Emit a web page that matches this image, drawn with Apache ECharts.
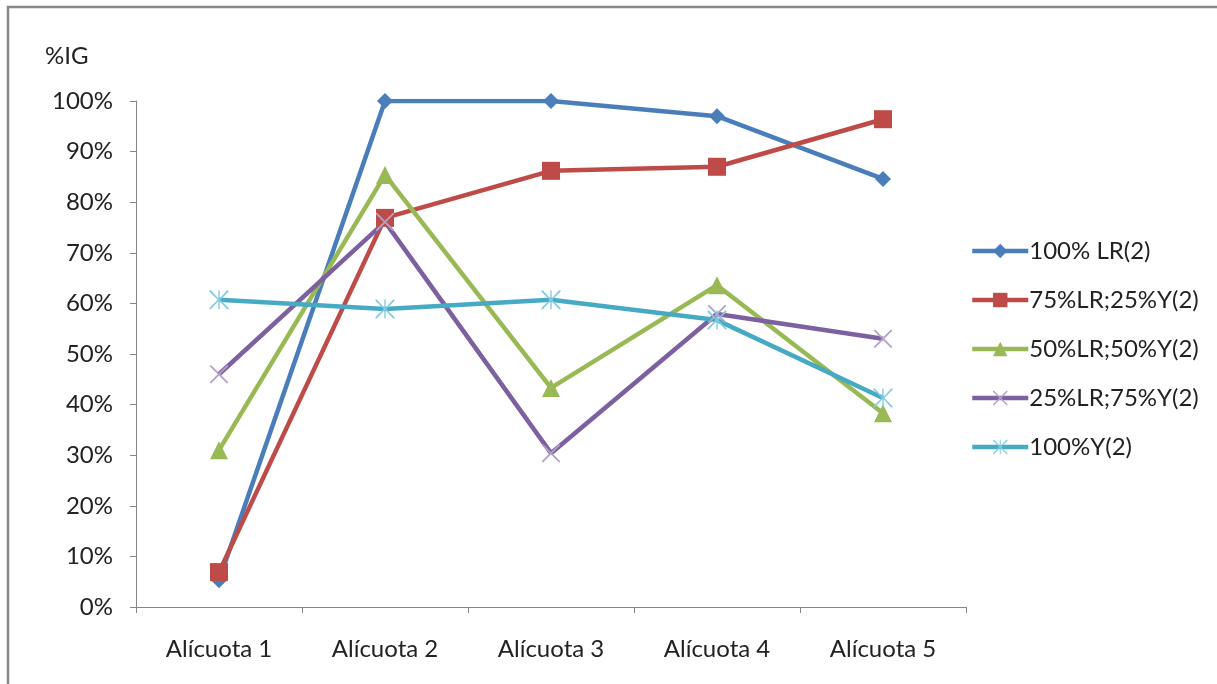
<!DOCTYPE html>
<html>
<head>
<meta charset="utf-8">
<script src="https://cdn.jsdelivr.net/npm/echarts@6/dist/echarts.min.js"></script>
<style>
  html, body { margin: 0; padding: 0; background: #fff; }
  #chart { width: 1217px; height: 684px; }
</style>
</head>
<body>
<div id="chart"></div>
<script>
// Sample aliquots on the x axis
const categories = ['Alícuota 1', 'Alícuota 2', 'Alícuota 3', 'Alícuota 4', 'Alícuota 5'];

// %IG per substrate mix (fractions of 1)
const lr100   = [0.053, 1.000, 1.000, 0.970, 0.846];
const lr75y25 = [0.069, 0.769, 0.862, 0.870, 0.964];
const lr50y50 = [0.310, 0.854, 0.433, 0.636, 0.383];
const lr25y75 = [0.460, 0.761, 0.304, 0.579, 0.530];
const y100    = [0.607, 0.589, 0.607, 0.567, 0.413];

const seriesNames = ['100% LR(2)', '75%LR;25%Y(2)', '50%LR;50%Y(2)', '25%LR;75%Y(2)', '100%Y(2)'];
const yTicks = [0, 0.1, 0.2, 0.3, 0.4, 0.5, 0.6, 0.7, 0.8, 0.9, 1.0];

// Thin cross and asterisk marker outlines
const crossPath = 'path://M0,0L1.4,0L10,8.6L18.6,0L20,0L20,1.4L11.4,10L20,18.6L20,20L18.6,20L10,11.4L1.4,20L0,20L0,18.6L8.6,10L0,1.4Z';
const starPath = 'path://M9.3,0L10.7,0L10.7,8.6L18.6,0L20,0L20,1.4L11.4,10L20,18.6L20,20L18.6,20L10.7,11.4L10.7,20L9.3,20L9.3,11.4L1.4,20L0,20L0,18.6L8.6,10L0,1.4L0,0L1.4,0L9.3,8.6Z';

const FONT = 'Lato';
const TXT = '#222222';
const chart = echarts.init(document.getElementById('chart'), null, { renderer: 'canvas' });

function lineSeries(name, data, color, symbol, size, symColor) {
  return {
    name: name,
    type: 'line',
    data: data,
    symbol: symbol,
    symbolSize: size,
    showAllSymbol: true,
    lineStyle: { color: color, width: 4.5 },
    itemStyle: { color: symColor || color, borderWidth: 0 },
    emphasis: { disabled: true },
    animation: false
  };
}

chart.setOption({
  backgroundColor: '#ffffff',
  animation: false,
  textStyle: { fontFamily: FONT },
  graphic: [
    {
      type: 'rect',
      shape: { x: 8, y: 7, width: 1400, height: 900 },
      style: { fill: 'none', stroke: '#888888', lineWidth: 2.5 },
      silent: true
    },
    {
      type: 'text',
      left: 45, top: 44,
      style: { text: '%IG', font: '24px "' + FONT + '"', fill: TXT }
    }
  ],
  grid: { left: 136, right: 251, top: 101, bottom: 77, containLabel: false },
  legend: {
    orient: 'vertical',
    left: 965,
    top: 234,
    itemWidth: 56,
    itemHeight: 18,
    itemGap: 25,
    lineStyle: { width: 4.5 },
    textStyle: { fontSize: 24, color: TXT, fontFamily: FONT, padding: [0, 0, 0, -4] },
    data: seriesNames
  },
  xAxis: {
    type: 'category',
    data: categories,
    boundaryGap: true,
    axisLine: { lineStyle: { color: '#868686', width: 1 } },
    axisTick: { show: true, length: 6, alignWithLabel: false, lineStyle: { color: '#868686' } },
    axisLabel: { fontSize: 24, color: TXT, margin: 30, fontFamily: FONT },
    splitLine: { show: false }
  },
  yAxis: {
    type: 'value',
    min: 0,
    max: 1,
    interval: 0.1,
    axisLine: { show: true, lineStyle: { color: '#868686', width: 1 } },
    axisTick: { show: true, length: 6, inside: false, lineStyle: { color: '#868686' } },
    axisLabel: {
      fontSize: 24, color: TXT, margin: 23, fontFamily: FONT,
      formatter: function (v) {
        const t = yTicks.find(function (k) { return Math.abs(k - v) < 1e-9; });
        return Math.round((t !== undefined ? t : v) * 100) + '%';
      }
    },
    splitLine: { show: false }
  },
  series: [
    lineSeries(seriesNames[0], lr100,   '#4A7EBB', 'diamond', 16),
    lineSeries(seriesNames[1], lr75y25, '#BE4B48', 'rect', 18),
    lineSeries(seriesNames[2], lr50y50, '#98B954', 'triangle', 18),
    lineSeries(seriesNames[3], lr25y75, '#7D60A0', crossPath, 18, '#B3A2C7'),
    lineSeries(seriesNames[4], y100,    '#46AAC5', starPath, 19, '#7FCBE0')
  ]
});
</script>
</body>
</html>
